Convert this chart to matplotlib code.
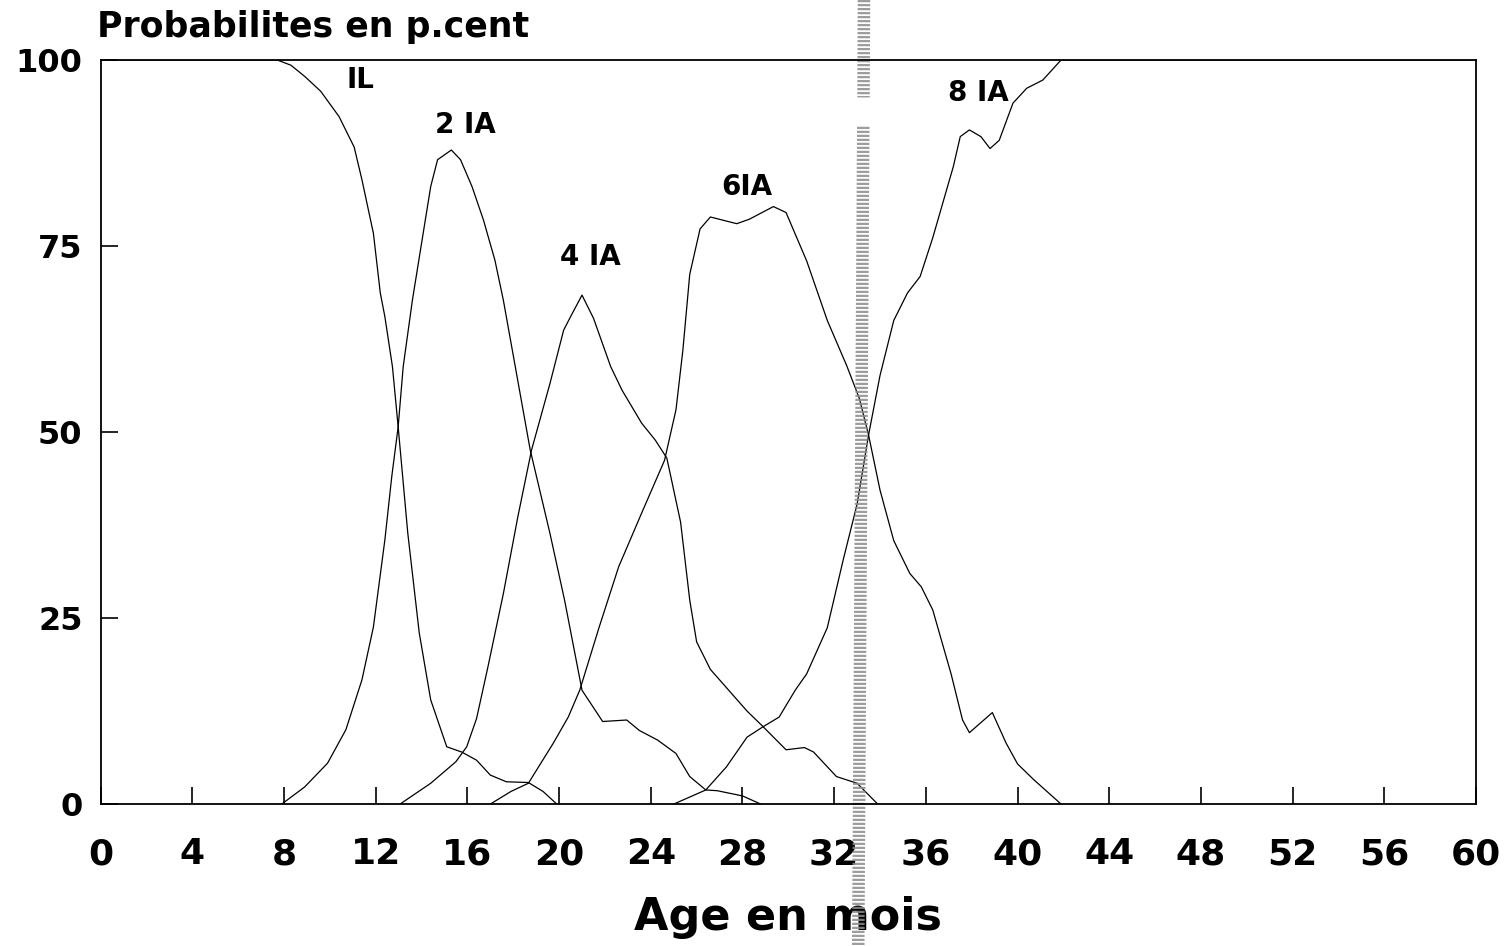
import numpy as np
import matplotlib
matplotlib.use("Agg")
import matplotlib.pyplot as plt
from matplotlib.transforms import blended_transform_factory

# curves (age in months, probability in %)
il_x = [0, 7.7, 8.3, 8.9, 9.6, 10.4, 11.06, 11.4, 11.9, 12.2, 12.4, 12.73, 12.98, 13.4,
        13.9, 14.4, 15.1, 15.75, 16.4, 17.0, 17.7, 18.66, 19.3, 19.9]
il_y = [100, 100, 99.3, 97.8, 95.8, 92.4, 88.3, 83.9, 76.7, 68.7, 65.5, 58.8, 50.7, 36.4,
        23, 14, 7.7, 7.0, 5.9, 3.9, 3.0, 2.9, 1.7, 0]

ia2_x = [7.9, 8.9, 9.9, 10.7, 11.4, 11.9, 12.4, 12.7, 12.98, 13.2, 13.6, 14.07, 14.4, 14.7,
         15.3, 15.7, 16.2, 16.7, 17.2, 17.57, 18.74, 19.6, 20.24, 21.0, 21.9, 22.95, 23.5,
         24.3, 25.1, 25.7, 26.4, 26.9, 28.0, 28.8]
ia2_y = [0, 2.3, 5.5, 10, 16.7, 23.8, 35.5, 44, 50.7, 58.8, 67.7, 76.7, 83, 86.6,
         87.9, 86.6, 83, 78.5, 73.1, 67.7, 47.6, 36.4, 27.4, 15.3, 11.1, 11.3, 9.9,
         8.6, 6.8, 3.7, 1.9, 1.8, 1.1, 0]

ia4_x = [13.06, 14.4, 15.5, 15.97, 16.4, 16.9, 17.57, 18.2, 18.8, 19.6, 20.2, 20.5, 21.0,
         21.5, 22.25, 22.75, 23.6, 24.2, 24.7, 25.3, 25.7, 26.0, 26.6, 27.4, 28.2, 28.9,
         29.9, 30.7, 31.1, 32.1, 33.0, 33.9]
ia4_y = [0, 2.8, 5.7, 7.7, 11.5, 18.5, 28.3, 38.6, 47.6, 56.5, 63.7, 65.5, 68.4,
         65.3, 58.8, 55.6, 51.2, 48.9, 46.5, 37.9, 27.4, 21.8, 18.1, 15.3, 12.5, 10.4,
         7.3, 7.6, 7.0, 3.7, 2.8, 0]

ia6_x = [17.0, 17.9, 18.66, 19.75, 20.4, 20.9, 21.75, 22.6, 23.6, 24.6, 25.1, 25.4, 25.7,
         26.15, 26.6, 27.75, 28.3, 29.35, 29.9, 30.8, 31.7, 32.55, 33.1, 33.5, 34.0, 34.6,
         35.3, 35.8, 36.3, 37.1, 37.6, 37.9, 38.9, 39.5, 40.0, 40.7, 41.9]
ia6_y = [0, 1.7, 2.8, 8.2, 11.7, 15.3, 23.8, 31.9, 39.1, 46.2, 53, 61, 71.2,
         77.3, 78.9, 78, 78.6, 80.3, 79.5, 73, 65, 58.9, 54.5, 49.6, 42.2, 35.4,
         31, 29.2, 26.1, 17.5, 11.3, 9.6, 12.3, 8.2, 5.4, 3.3, 0]

ia8_x = [25.0, 26.4, 27.3, 28.2, 28.9, 29.6, 30.3, 30.8, 31.7, 32.4, 33.0, 33.5, 34.0, 34.6,
         35.2, 35.75, 36.3, 37.2, 37.5, 37.9, 38.4, 38.8, 39.2, 39.8, 40.4, 41.1, 41.9, 60]
ia8_y = [0, 1.9, 5.0, 9.0, 10.4, 11.7, 15.3, 17.5, 23.7, 32.9, 40.3, 49.6, 57.6, 65,
         68.7, 70.9, 76.1, 85.7, 89.7, 90.6, 89.7, 88.1, 89.2, 94.2, 96.2, 97.3, 100, 100]

labels = ["IL", "2 IA", "4 IA", "6IA", "8 IA"]
label_x = [11.34, 15.9, 21.36, 28.2, 38.3]
label_y = [97.3, 91.3, 73.5, 82.9, 95.5]

xticks = list(range(0, 61, 4))
yticks = [0, 25, 50, 75, 100]

# fold / stipple mark of the scan
fold_x = [33.3, 33.05]

plt.rcParams['font.family'] = 'DejaVu Sans'
plt.rcParams['font.weight'] = 'bold'

fig = plt.figure(figsize=(15.04, 9.46), dpi=100)
ax = fig.add_axes([0.0669, 0.150, 0.9145, 0.7866])

for xs, ys in [(il_x, il_y), (ia2_x, ia2_y), (ia4_x, ia4_y), (ia6_x, ia6_y), (ia8_x, ia8_y)]:
    ax.plot(xs, ys, color='black', lw=0.9, solid_joinstyle='round')

for t, lx, ly in zip(labels, label_x, label_y):
    ax.text(lx, ly, t, fontsize=20, fontweight='bold', ha='center', va='center')

ax.set_xlim(0, 60)
ax.set_ylim(0, 100)
ax.set_xticks(xticks)
ax.set_yticks(yticks)
ax.tick_params(axis='x', direction='in', length=12, width=1.2, labelsize=26, pad=24)
ax.tick_params(axis='y', direction='in', length=12, width=1.2, labelsize=23, pad=13)
for lab in ax.get_xticklabels() + ax.get_yticklabels():
    lab.set_fontweight('bold')
for sp in ax.spines.values():
    sp.set_linewidth(1.3)

ax.set_xlabel('Age en mois', fontsize=32, fontweight='bold', labelpad=18)
fig.text(97 / 1504, 0.961, 'Probabilites en p.cent', fontsize=25, fontweight='bold',
         ha='left', va='baseline')

tr = blended_transform_factory(ax.transData, fig.transFigure)
ax.plot([fold_x[0], fold_x[0] - 0.02], [1.0, 0.897], transform=tr, clip_on=False,
        color='#8c8c8c', lw=9, ls=(0, (0.18, 0.14)), alpha=0.85)
ax.plot([fold_x[0] - 0.03, fold_x[1]], [0.866, 0.0], transform=tr, clip_on=False,
        color='#8c8c8c', lw=9, ls=(0, (0.18, 0.14)), alpha=0.85)

fig.savefig('out.png', dpi=100)
